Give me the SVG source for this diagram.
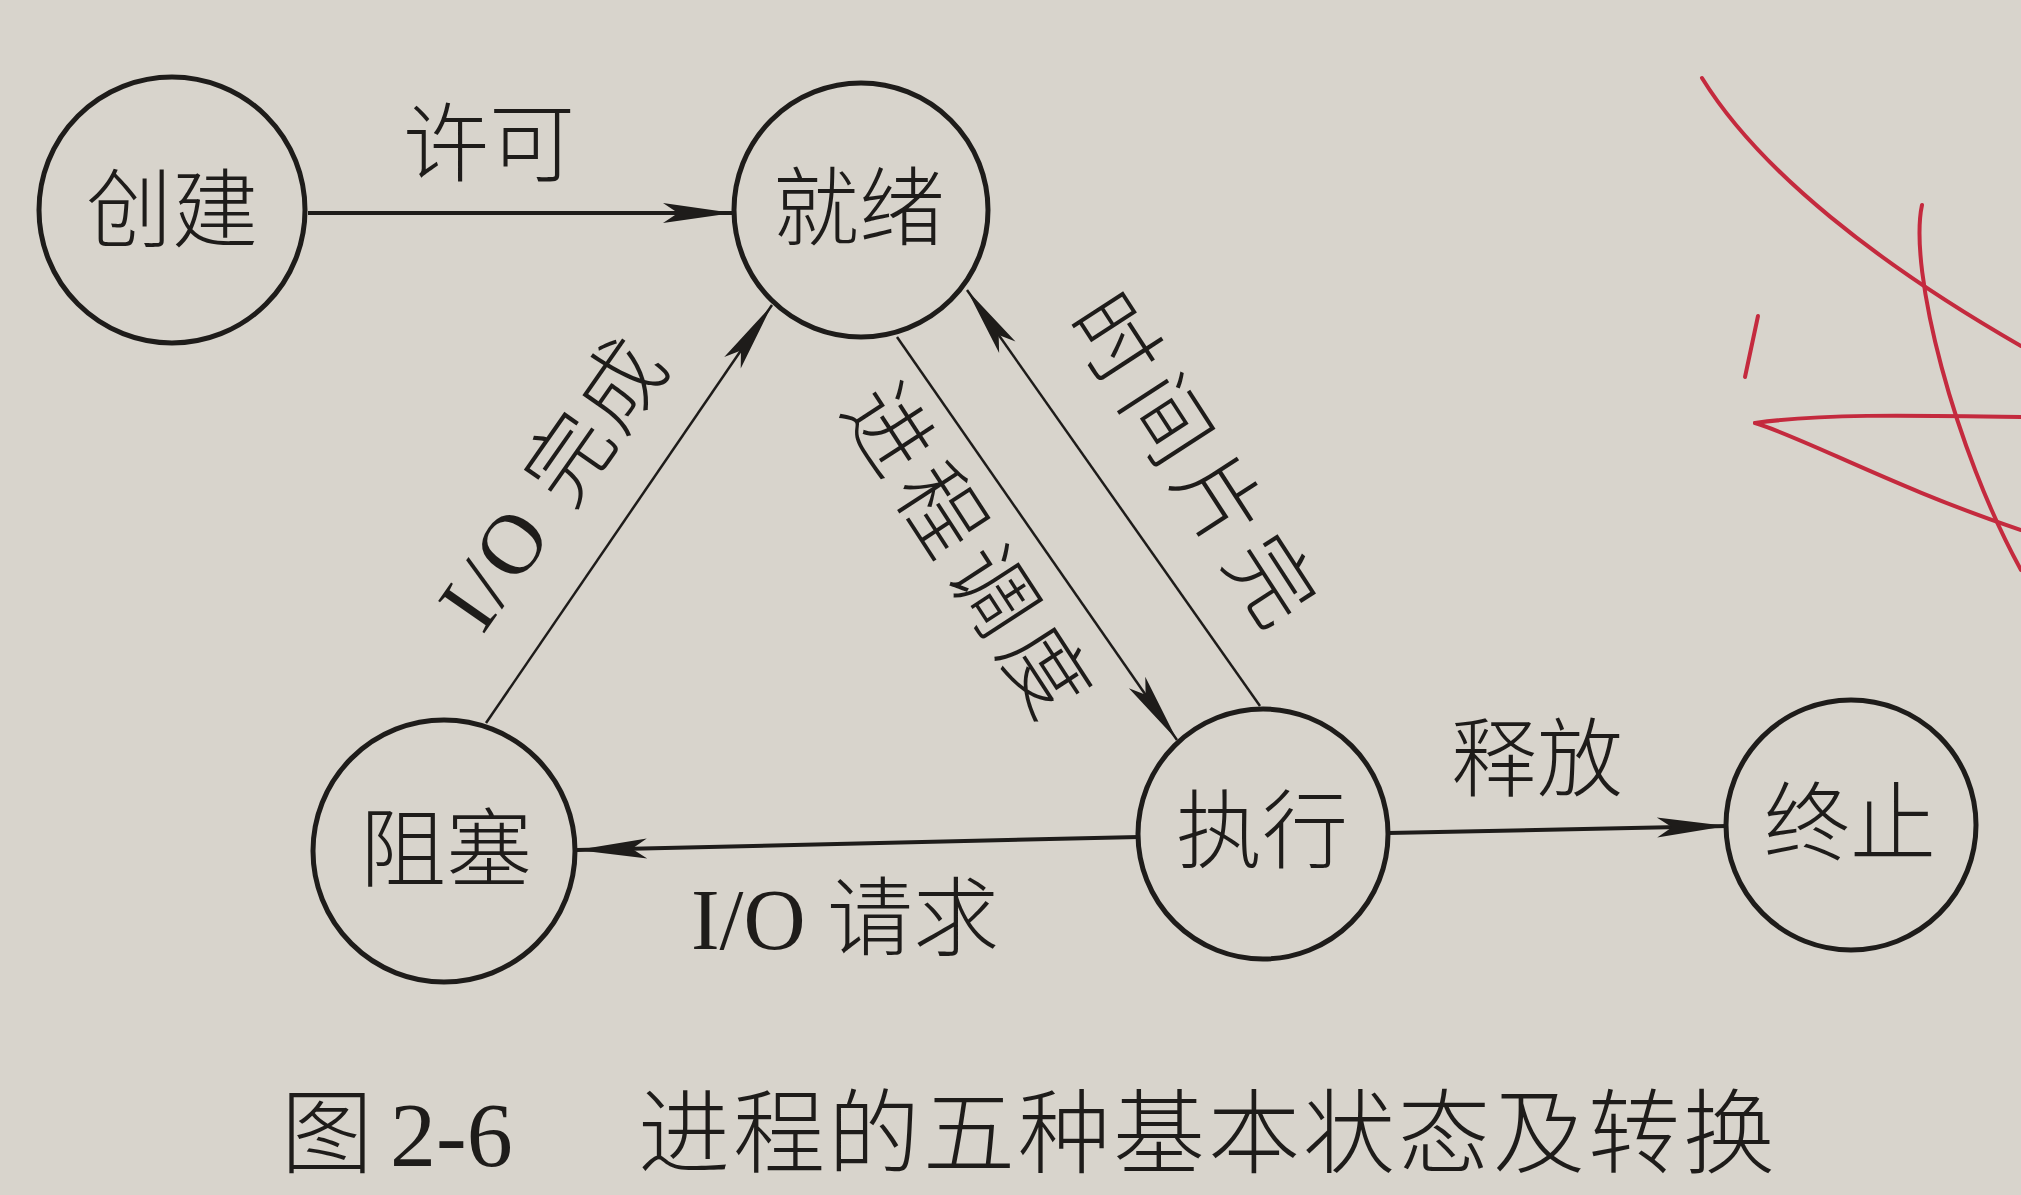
<svg xmlns="http://www.w3.org/2000/svg" width="2021" height="1195" viewBox="0 0 2021 1195">
  <style>
    .node circle { fill: none; stroke: #1e1c1a; stroke-width: 5; }
    .node text, .label { font-family: "Liberation Serif", "Noto Sans CJK SC", serif; font-size: 86px; fill: #1e1c1a; font-weight: 300; }
    .node text { text-anchor: middle; dominant-baseline: central; }
    .label { text-anchor: middle; dominant-baseline: central; }
    .edge { fill: none; stroke: #1e1c1a; marker-end: url(#ah); }
    .thick { stroke-width: 4; }
    .thin { stroke-width: 2.5; }
    .caption { font-family: "Liberation Serif", "Noto Sans CJK SC", serif; font-size: 92px; fill: #1e1c1a; font-weight: 300; }
    .red { fill: none; stroke: #c42a3e; stroke-width: 4; stroke-linecap: round; }
  </style>
  <defs>
    <marker id="ah" viewBox="-72 -12 74 24" refX="0" refY="0" markerWidth="74" markerHeight="24" markerUnits="userSpaceOnUse" orient="auto">
      <path d="M0,0 L-70,-10 L-55,0 L-70,10 Z" fill="#1e1c1a"/>
    </marker>
  </defs>
  <rect width="2021" height="1195" fill="#d8d4cc"/>

  <g id="connectors">
    <path class="edge thick" d="M308,213 L733,213"/>
    <path class="edge thin" d="M486,723 L772,305"/>
    <path class="edge thin" d="M897,337 L1177,740"/>
    <path class="edge thin" d="M1260,706 L967,290"/>
    <path class="edge thick" d="M1139,837 L577,850"/>
    <path class="edge thick" d="M1388,833 L1727,826"/>
    <text class="label" x="489" y="146">许可</text>
    <text class="label" x="554" y="483" transform="rotate(-55 554 483)" letter-spacing="4">I/O 完成</text>
    <text class="label" x="968" y="555" transform="rotate(57 968 555)" letter-spacing="10">进程调度</text>
    <text class="label" x="1194" y="465" transform="rotate(57 1194 465)" letter-spacing="10">时间片完</text>
    <text class="label" x="845" y="920">I/O 请求</text>
    <text class="label" x="1537" y="761">释放</text>
  </g>

  <g id="node-create" class="node">
    <circle cx="172" cy="210" r="133"/>
    <text x="172" y="212">创建</text>
  </g>
  <g id="node-ready" class="node">
    <circle cx="861" cy="210" r="127"/>
    <text x="859" y="210">就绪</text>
  </g>
  <g id="node-blocked" class="node">
    <circle cx="444" cy="851" r="131"/>
    <text x="446" y="851">阻塞</text>
  </g>
  <g id="node-running" class="node">
    <circle cx="1263" cy="834" r="125"/>
    <text x="1262" y="833">执行</text>
  </g>
  <g id="node-exit" class="node">
    <circle cx="1851" cy="825" r="125"/>
    <text x="1850" y="825">终止</text>
  </g>

  <g id="caption">
    <text class="caption" x="281" y="1166">图</text>
    <text class="caption" x="390" y="1166" font-size="98">2-6</text>
    <text class="caption" x="638" y="1166" letter-spacing="3">进程的五种基本状态及转换</text>
  </g>

  <g id="pen-marks">
    <path class="red" d="M1702,78 C1760,172 1880,265 2021,346"/>
    <path class="red" d="M1922,205 C1908,270 1955,450 2021,570"/>
    <path class="red" d="M1758,316 L1745,377"/>
    <path class="red" d="M1755,423 C1820,414 1900,415 2021,417"/>
    <path class="red" d="M1755,423 C1800,436 1900,490 2021,530"/>
  </g>
</svg>
